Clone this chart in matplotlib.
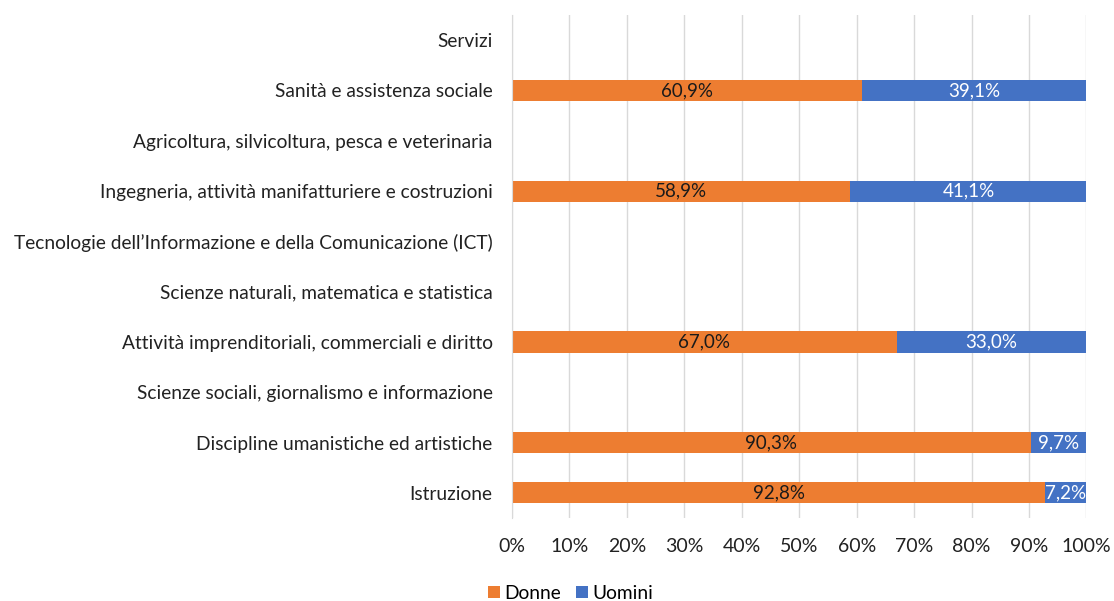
import matplotlib.pyplot as plt
import numpy as np

plt.rcParams['font.family'] = ['Lato', 'DejaVu Sans']

categorie = ['Istruzione',
             'Discipline umanistiche ed artistiche',
             'Scienze sociali, giornalismo e informazione',
             'Attività imprenditoriali, commerciali e diritto',
             'Scienze naturali, matematica e statistica',
             'Tecnologie dell\u2019Informazione e della Comunicazione (ICT)',
             'Ingegneria, attività manifatturiere e costruzioni',
             'Agricoltura, silvicoltura, pesca e veterinaria',
             'Sanità e assistenza sociale',
             'Servizi']
# nan = nessun dato nel grafico originale
donne = [92.8, 90.3, np.nan, 67.0, np.nan, np.nan, 58.9, np.nan, 60.9, np.nan]
uomini = [7.2, 9.7, np.nan, 33.0, np.nan, np.nan, 41.1, np.nan, 39.1, np.nan]

c_donne = '#ED7D31'
c_uomini = '#4472C4'

fig = plt.figure(figsize=(11.14, 6.01), dpi=100)
ax = fig.add_axes([0.4596, 0.138, 0.5157, 0.837])

y = np.arange(len(categorie))
d = np.nan_to_num(donne)
u = np.nan_to_num(uomini)
ax.barh(y, d, height=0.42, color=c_donne, label='Donne', zorder=2)
ax.barh(y, u, left=d, height=0.42, color=c_uomini, label='Uomini', zorder=2)

for i in range(len(categorie)):
    if np.isnan(donne[i]):
        continue
    ax.text(d[i] / 2, y[i], ('%.1f%%' % donne[i]).replace('.', ','),
            ha='center', va='center', fontsize=13.5, color='#1a1a1a', zorder=3)
    ax.text(d[i] + u[i] / 2, y[i], ('%.1f%%' % uomini[i]).replace('.', ','),
            ha='center', va='center', fontsize=13.5, color='white', zorder=3)

ax.set_xlim(0, 100)
ax.set_ylim(-0.5, len(categorie) - 0.5)
ax.set_yticks(y)
ax.set_yticklabels(categorie, fontsize=13.8, color='#222222')
ax.set_xticks(np.arange(0, 101, 10))
ax.set_xticklabels(['%d%%' % v for v in range(0, 101, 10)], fontsize=14, color='#222222')
ax.tick_params(axis='y', length=0, pad=14)
ax.tick_params(axis='x', length=0, pad=14)
ax.grid(axis='x', color='#d9d9d9', linewidth=1, zorder=0)
for s in ['top', 'right', 'bottom']:
    ax.spines[s].set_visible(False)
ax.spines['left'].set_color('#d9d9d9')

ax.legend(loc='upper left', bbox_to_anchor=(-0.055, -0.118), ncol=2, frameon=False,
          fontsize=13.8, handlelength=0.6, handleheight=0.6, handletextpad=0.25,
          columnspacing=0.8, borderaxespad=0)

fig.savefig('out.png', dpi=100)
